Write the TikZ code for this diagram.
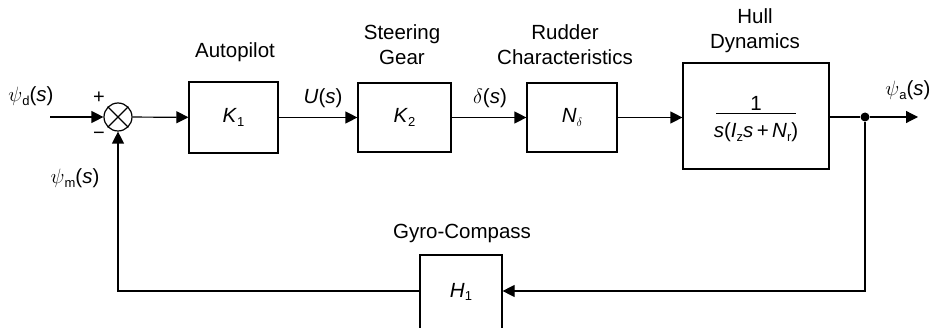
\documentclass[tikz,border=0pt]{standalone}
\usepackage{fontspec}
\setmainfont{Liberation Sans}
\usetikzlibrary{arrows.meta}
\newcommand{\lowsub}[1]{\raisebox{-0.35ex}{\fontsize{13}{13}\selectfont #1}}
\begin{document}
\begin{tikzpicture}[x=1pt,y=-1pt,line width=1.2pt,
  >={Triangle[length=12pt,width=12pt]},
  every node/.style={font=\fontsize{20.5}{25}\selectfont},
  blockbox/.style={draw,inner sep=0pt},
  lbl/.style={inner sep=0pt,align=center}]
\useasboundingbox (0,0) rectangle (937,328);
% blocks
\node[circle,draw,minimum size=28pt,inner sep=0pt] (sum) at (118,117) {};
\draw (sum.north west) -- (sum.south east);
\draw (sum.north east) -- (sum.south west);
\node[blockbox,minimum width=89pt,minimum height=71pt] (K1) at (233.5,117.5) {\textit{K}\lowsub{1}};
\node[blockbox,minimum width=93pt,minimum height=69pt] (K2) at (404.5,117.5) {\textit{K}\lowsub{2}};
\node[blockbox,minimum width=90pt,minimum height=69pt] (N) at (572,117.5) {\textit{N}\lowsub{$\delta$}};
\node[blockbox,minimum width=146pt,minimum height=106pt] (hull) at (756,116) {};
\node[blockbox,minimum width=82pt,minimum height=74pt] (H1) at (461,292) {\textit{H}\lowsub{1}};
% hull fraction
\node[lbl] (num) at (756,103) {1};
\node[lbl] (den) at (756,132) {\textit{s}(\textit{I}\lowsub{z}\textit{s}\,+\,\textit{N}\lowsub{r})};
\draw[line width=1pt] (716,114) -- (796,114);
% coordinates
\coordinate (in) at (50,117);
\node[circle,fill,inner sep=0pt,minimum size=9pt] (dot) at (865,117) {};
\coordinate (out) at (918,117);
% connectors
\draw[->] (in) -- (sum);
\draw[->] (sum) -- (K1);
\draw[->] (K1) -- (K2);
\draw[->] (K2) -- (N);
\draw[->] (N) -- (hull.west |- N);
\draw (hull.east |- dot) -- (dot);
\draw[->] (dot) -- (out);
\draw[->] (dot) |- (H1.east |- 0,291);
\draw[->] (H1.west |- 0,291) -| (sum.south);
% labels
\node[lbl] (psid) at (31,96) {$\psi$\lowsub{d}(\textit{s})};
\node[lbl,font=\fontsize{20}{20}\selectfont] (plus) at (99,98) {+};
\node[lbl,font=\fontsize{20}{20}\selectfont] (minus) at (99,136) {\textminus};
\node[lbl] (psim) at (75,178) {$\psi$\lowsub{m}(\textit{s})};
\node[lbl] (U) at (323,98) {\textit{U}(\textit{s})};
\node[lbl] (delta) at (490,98) {$\delta$(\textit{s})};
\node[lbl] (psia) at (908,90) {$\psi$\lowsub{a}(\textit{s})};
\node[lbl] (t1) at (235,52) {Autopilot};
\node[lbl] (t2) at (402,44.5) {Steering\\Gear};
\node[lbl] (t3) at (565,44.5) {Rudder\\Characteristics};
\node[lbl] (t4) at (755,30.5) {Hull\\Dynamics};
\node[lbl] (t5) at (462,233) {Gyro-Compass};
\end{tikzpicture}
\end{document}
